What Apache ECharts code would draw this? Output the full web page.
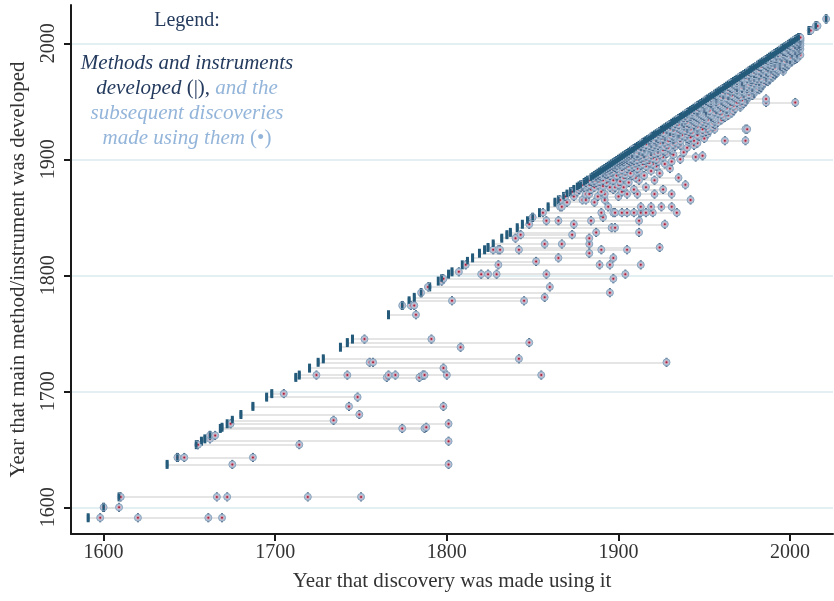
<!DOCTYPE html>
<html><head><meta charset="utf-8">
<script src="https://cdn.jsdelivr.net/npm/echarts@6/dist/echarts.min.js"></script>
<style>html,body{margin:0;padding:0;background:#fff}#c{width:834px;height:601px}</style>
</head><body><div id="c"></div>
<script>
const xTicks = [1600, 1700, 1800, 1900, 2000];
const yTicks = [1600, 1700, 1800, 1900, 2000];
const xTitle = 'Year that discovery was made using it';
const yTitle = 'Year that main method/instrument was developed';

// year each main method/instrument was developed
const methodYear = [
 1591,1600,1609,1637,1643,1654,1657,1659,1662,1668,1669,1672,1675,1680,1687,1695,1698,1712,1714,1720,1725,1728,1738,1742,1745,
 1766,1774,1778,1781,1785,1790,1795,1797,1801,1803,1809,1812,1815,1819,1822,1824,1827,1832,1835,1837,1841,1844,1847,1850,1854,
 1859,1863,1865,1868,1870,1872,1874,1876,1877,1878,1880,1881,1882,1884,1885,1886,1887,1888,1889,1890,1891,1892,1893,1894,1895,
 1896,1897,1898,1899,1900,1901,1902,1903,1904,1905,1906,1907,1908,1909,1910,1911,1912,1913,1914,1915,1916,1917,1918,1919,1920,
 1921,1922,1923,1924,1925,1926,1927,1928,1929,1930,1931,1932,1933,1934,1935,1936,1937,1938,1939,1940,1941,1942,1943,1944,1945,
 1946,1947,1948,1949,1950,1951,1952,1953,1954,1955,1956,1957,1958,1959,1960,1961,1962,1963,1964,1965,1966,1967,1968,1969,1970,
 1971,1972,1973,1974,1975,1976,1977,1978,1979,1980,1981,1982,1983,1984,1985,1986,1987,1988,1989,1990,1991,1992,1993,1994,1995,
 1996,1997,1998,1999,2000,2001,2002,2003,2004,2005,2011,2015,2021
];

// years of the discoveries later made using each method (same order)
const discoveryYears = [
 [1598,1620,1661,1669],[1600,1609],[1610,1666,1672,1719,1750],[1675,1801],[1643,1647,1687],[1655,1714],[1801],[1662],[1662,1665],
 [1774,1787],[1788],[1674,1801],[1734],[1749],[1743,1798],[1748],[1705],[1765,1784],[1724,1742,1766,1770,1786,1787,1800,1855],
 [1798],[1755,1757,1928],[1842],[1808],[1848],[1752,1791],
 [1782],[1774,1779,1781],[1803,1845],[1857],[1785,1895],[1789,1860],[1797],[1798,1897],[1820,1824,1829,1858,1904],[1807],
 [1811,1830,1889,1895,1913],[1852],[1865,1897],[1883],[1827,1830,1831,1842,1890,1905],[1924],[1857,1867,1883],[1840,1883],
 [1843,1873],[1887,1912],[1896,1898],[1848,1874,1927],[1858,1865,1884,1912],[1850,1891],
 [1856,1890,1897,1898,1902,1905,1909,1913,1916,1920,1934],
 [1866,1867,1894,1913,1919,1925,1931],[1870,1886],[1866,1879,1881,1892,1942],[1869,1874,1888,1900],
 [1881,1883,1892,1905,1911,1921,1931],[1873,1876,1890,1902],[1877,1884,1897,1909,1926],[1878,1880,1886,1895,1898,1903,1916],
 [1879,1882,1891],[1879,1883,1888,1900,1939],[1881,1885,1887,1893,1906],[1884,1889,1901],[1883,1886,1891,1897,1912,1921],
 [1885,1888,1894,1903,1910,1935],[1887,1890,1899],[1887,1889,1895,1899,1908,1915],[1888,1893,1904],
 [1889,1892,1894,1901,1907,1924],[1891,1896,1911],[1891,1893,1897,1900,1904,1912,1919],[1892,1895,1902],
 [1893,1896,1899,1905,1911,1930],[1894,1898,1908],[1895,1897,1902,1906,1909,1916,1922],[1896,1899,1903,1913],
 [1897,1898,1901,1904,1908,1914,1920,1927],[1898,1900,1905,1910,1918],[1899,1901,1903,1907,1912,1923,1931],
 [1900,1902,1906,1909,1915],[1901,1903,1905,1908,1911,1917,1922,1936],[1902,1904,1907,1913,1920],
 [1903,1905,1909,1914,1918,1926,1945],[1904,1906,1910,1912,1916,1949],[1905,1907,1909,1913,1919,1924,1932],
 [1906,1908,1911,1915,1921,1928],
 [1908,1911,1915,1923,1938],[1908,1914,1919,1927],[1912,1914,1919,1926,1931],[1909,1912,1919,1923,1930],
 [1915,1918,1923,1929,1940],[1913,1915,1920,1927,1933],[1913,1918,1923,1936,1944],[1916,1921,1928,1932],
 [1914,1919,1924,1935,1946],[1919,1922,1927,1933,1941],[1918,1922,1929,1936,1944,1962,1974],[1918,1921,1926,1932,1941],
 [1923,1926,1932,1940,1950],[1919,1922,1930,1936,1942],[1922,1927,1932,1939,1947],
 [1925,1927,1931,1937,1946],[1923,1927,1935,1940,1952],[1926,1932,1935,1943,1949],[1924,1930,1935,1941,1951],
 [1930,1932,1939,1946,1953],[1928,1930,1936,1942,1949,1956,1974,1975],[1928,1935,1940,1946,1952],
 [1932,1934,1940,1946,1955],[1932,1938,1940,1944,1951],[1930,1935,1944,1950,1956],[1933,1938,1941,1948,1955],
 [1938,1940,1945,1951,1958],[1934,1937,1944,1949,1956],[1937,1939,1943,1952,1960],[1935,1942,1947,1950,1956],
 [1938,1940,1946,1955,1962],[1942,1945,1950,1954,1961],[1939,1944,1949,1954,1964],[1942,1943,1948,1953,1960],
 [1940,1947,1952,1958,1966],[1943,1946,1951,1956,1963],[1946,1951,1953,1959,1967],[1944,1946,1951,1957,1963],
 [1950,1951,1957,1963,1968],[1947,1950,1956,1961,1971],[1946,1950,1955,1960,1967],[1950,1955,1959,1965,1971],
 [1949,1954,1958,1963,1973],[1953,1954,1962,1969,1986,2003],[1952,1957,1961,1966,1974],[1951,1954,1960,1965,1972],
 [1957,1960,1964,1970,1975,1986],[1954,1957,1963,1968,1975],[1957,1960,1967,1971,1975],[1957,1964,1966,1974,1978],
 [1956,1961,1964,1970,1976],[1961,1964,1969,1973,1979],[1959,1961,1968,1973,1979],[1965,1967,1972,1976,1979],
 [1962,1964,1969,1978,1982],[1961,1966,1972,1975,1981],[1965,1969,1972,1978,1983],[1964,1969,1975,1978,1982],
 [1968,1969,1973,1978,1984],[1967,1973,1976,1982,1984],[1966,1969,1973,1979,1985],[1972,1973,1977,1982,1987],
 [1969,1972,1980,1982,1986],[1972,1977,1978,1985,1988],[1972,1975,1981,1983,1988],[1971,1977,1979,1986,1990],
 [1976,1979,1982,1986,1989],[1974,1976,1982,1986,1991],[1979,1980,1985,1990,1992],[1977,1979,1983,1987,1992],
 [1976,1983,1986,1991,1996],[1980,1982,1986,1990,1993],[1979,1984,1989,1992,1996],[1983,1987,1989,1991,1996],
 [1982,1983,1987,1995,1998],[1981,1986,1990,1994,1997],[1985,1988,1994,1996,1999],[1984,1987,1991,1994,1998],
 [1989,1991,1994,1997,2001],[1987,1991,1994,1997,2001],[1986,1989,1994,2000,2003],[1991,1992,1998,2000,2004],
 [1989,1995,1998,2000,2003],[1992,1995,1998,2003],[1992,1994,1997,2002,2006],[1991,1996,2001,2004],[1993,1998,2001,2004],
 [1997,1996,2001,2004],[1996,2000,2003,2005],[1995,1999,2003,2006],[1999,2003,2005],[1998,2002,2005],[2000,2004,2006],
 [1999,2003,2005],[2003,2005,2006],[2002,2005],[2004,2006],[2003,2006],[2005,2006],[2006],[2012],[2015,2016],[2021]
];

const FONT = '"Liberation Serif", "DejaVu Serif", serif';
const barPts = methodYear.map(y => [y, y]);
const discPts = [];
const linesData = [];
methodYear.forEach((y, i) => {
  const d = discoveryYears[i];
  d.forEach(x => discPts.push([x, y]));
  const lo = Math.min(y, ...d), hi = Math.max(y, ...d);
  if (hi > lo) linesData.push({ coords: [[lo, y], [hi, y]] });
});

function renderDisc(params, api) {
  const p = api.coord([api.value(0), api.value(1)]);
  const cx = p[0], cy = p[1];
  return { type: 'group', children: [
    { type: 'rect', shape: { x: cx - 1, y: cy - 4.5, width: 2, height: 9 }, style: { fill: '#2b4e72' } },
    { type: 'circle', shape: { cx: cx, cy: cy, r: 3.5 }, style: { fill: '#b0c6da', stroke: '#8aa3bd', lineWidth: 1 } },
    { type: 'circle', shape: { cx: cx, cy: cy, r: 2 }, style: { fill: '#d6a2b3' } },
    { type: 'circle', shape: { cx: cx, cy: cy, r: 1 }, style: { fill: '#a3203c' } }
  ] };
}

const chart = echarts.init(document.getElementById('c'), null, { renderer: 'canvas' });
const axisCol = '#1a1a1a';
const labFmt = v => String(v);
chart.setOption({
  animation: false,
  backgroundColor: '#fff',
  grid: { left: 70, right: 1, top: 5, bottom: 67 },
  xAxis: {
    type: 'value', min: 1581, max: 2025,
    axisLine: { show: true, onZero: false, lineStyle: { color: axisCol, width: 2 } },
    axisTick: { show: true, length: 7, lineStyle: { color: axisCol, width: 2 }, customValues: xTicks },
    axisLabel: { customValues: xTicks, formatter: labFmt, fontFamily: FONT, fontSize: 20, color: '#333', margin: 9 },
    splitLine: { show: false },
    name: xTitle, nameLocation: 'middle', nameGap: 37,
    nameTextStyle: { fontFamily: FONT, fontSize: 21, color: '#333' }
  },
  yAxis: {
    type: 'value', min: 1577, max: 2033,
    axisLine: { show: true, onZero: false, lineStyle: { color: axisCol, width: 2 } },
    axisTick: { show: true, length: 7, lineStyle: { color: axisCol, width: 2 }, customValues: yTicks },
    axisLabel: { customValues: yTicks, formatter: labFmt, fontFamily: FONT, fontSize: 20, color: '#333', margin: 12, rotate: 90 },
    splitLine: { show: false },
    name: yTitle, nameLocation: 'middle', nameGap: 42,
    nameTextStyle: { fontFamily: FONT, fontSize: 21, color: '#333' }
  },
  graphic: [
    { type: 'text', x: 187, y: 21, z: 100, style: { text: 'Legend:', font: '20px ' + FONT, fill: '#243b5e', align: 'center', verticalAlign: 'middle' } },
    { type: 'text', x: 187, y: 63, z: 100, style: { text: 'Methods and instruments', font: 'italic 21px ' + FONT, fill: '#243b5e', align: 'center', verticalAlign: 'middle' } },
    { type: 'text', x: 187, y: 88, z: 100, style: {
        text: '{a|developed }{b|(|),}{c| and the}', align: 'center', verticalAlign: 'middle',
        rich: {
          a: { fontFamily: FONT, fontStyle: 'italic', fontSize: 21, fill: '#243b5e', color: '#243b5e' },
          b: { fontFamily: FONT, fontSize: 21, fill: '#243b5e', color: '#243b5e' },
          c: { fontFamily: FONT, fontStyle: 'italic', fontSize: 21, fill: '#94b5da', color: '#94b5da' }
        } } },
    { type: 'text', x: 187, y: 113, z: 100, style: { text: 'subsequent discoveries', font: 'italic 21px ' + FONT, fill: '#94b5da', align: 'center', verticalAlign: 'middle' } },
    { type: 'text', x: 187, y: 138, z: 100, style: {
        text: '{c|made using them }{b|(•)}', align: 'center', verticalAlign: 'middle',
        rich: {
          b: { fontFamily: FONT, fontSize: 21, fill: '#94b5da', color: '#94b5da' },
          c: { fontFamily: FONT, fontStyle: 'italic', fontSize: 21, fill: '#94b5da', color: '#94b5da' }
        } } }
  ],
  series: [
    { type: 'line', data: [], silent: true, z: 0,
      markLine: { z: 0, silent: true, symbol: ['none', 'none'], label: { show: false },
        lineStyle: { color: '#e4eff3', width: 2, type: 'solid' },
        data: yTicks.map(v => ({ yAxis: v })) } },
    { type: 'lines', coordinateSystem: 'cartesian2d', silent: true, z: 2,
      lineStyle: { color: '#dcdcdc', width: 1.5, opacity: 1 }, data: linesData },
    { type: 'scatter', data: barPts, symbol: 'rect', symbolSize: [3, 9], silent: true, z: 3,
      itemStyle: { color: '#245a7a', opacity: 1 } },
    { type: 'custom', data: discPts, renderItem: renderDisc, encode: { x: 0, y: 1 }, silent: true, z: 4 },
    { type: 'scatter', data: barPts, symbol: 'rect', symbolSize: [2.5, 6], silent: true, z: 5,
      itemStyle: { color: '#245a7a', opacity: 1 } }
  ]
});
</script></body></html>
